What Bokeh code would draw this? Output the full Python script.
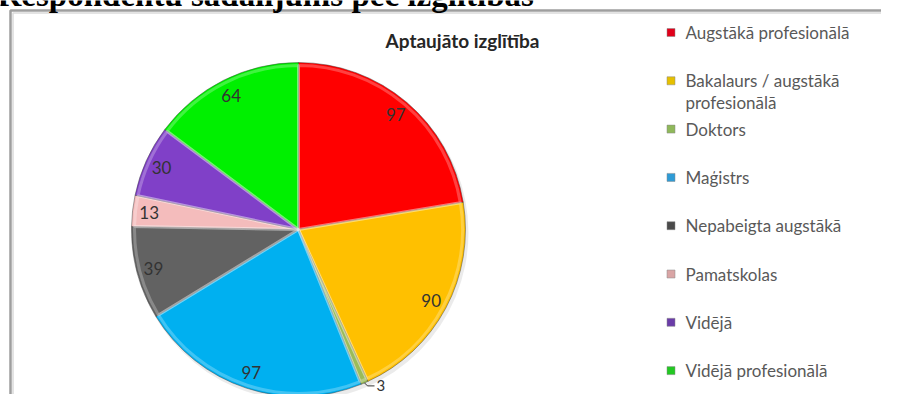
import numpy as np
from bokeh.plotting import figure
from bokeh.models import ColumnDataSource, Range1d
from bokeh.core.properties import value
from bokeh.embed import file_html
from bokeh.resources import INLINE

# ---- data ----
heading = "Respondentu sadalījums pēc izglītības"
chart_title = "Aptaujāto izglītība"
categories = ["Augstākā profesionālā", "Bakalaurs / augstākā\nprofesionālā", "Doktors",
              "Maģistrs", "Nepabeigta augstākā", "Pamatskolas", "Vidējā", "Vidējā profesionālā"]
counts = [97, 90, 3, 97, 39, 13, 30, 64]
colors = ["#FF0000", "#FFC000", "#9BBB59", "#00B0F0", "#626262", "#F4BCBC", "#8040C8", "#00F000"]
legend_colors = ["#E0001A", "#E6C000", "#8FB85A", "#2E9BD6", "#4A4A4A", "#D9A5A5", "#6A3CA8", "#22C822"]

# ---- layout (pixels, image coordinates) ----
W, H = 881, 394
def fx(px):
    return px
def fy(py):
    return H - py

cx, cy, r = fx(298), fy(229), 167

p = figure(width=W, height=H, output_backend="svg", toolbar_location=None,
           x_range=Range1d(0, W), y_range=Range1d(0, H),
           x_axis_location=None, y_axis_location=None, min_border=0)
p.grid.visible = False
p.outline_line_color = None
p.background_fill_color = "white"

# chart frame
p.line([fx(10), fx(10), W + 20], [-20, fy(10), fy(10)], line_color="#9E9E9E", line_width=2.5)
p.line([fx(12.5), fx(12.5), W + 20], [-20, fy(12.5), fy(12.5)], line_color="#DADADA", line_width=1.5)

# heading (cut off at the top, as in the reference)
p.text(x=[fx(-3)], y=[fy(-6)], text=[heading], text_font=value("Liberation Serif"),
       text_font_style="bold", text_font_size="33px", text_color="black",
       text_baseline="alphabetic", text_align="left")

# title
p.text(x=[fx(462)], y=[fy(40)], text=[chart_title], text_font=value("Lato"),
       text_font_style="bold", text_font_size="19px", text_color="#262626",
       text_baseline="middle", text_align="center")

# pie
vals = np.array(counts, dtype=float)
frac = vals / vals.sum()
cum_end = np.cumsum(frac)
cum_start = cum_end - frac
start_ang = np.pi / 2 - cum_end * 2 * np.pi
end_ang = np.pi / 2 - cum_start * 2 * np.pi
src = ColumnDataSource(dict(start=start_ang, end=end_ang, color=colors))
# soft shadow
p.wedge(x=cx + 2, y=cy - 3, radius=r + 1, start_angle=0, end_angle=2 * np.pi,
        fill_color="#000000", fill_alpha=0.08, line_color=None)
p.wedge(x=cx, y=cy, radius=r, start_angle="start", end_angle="end", direction="anticlock",
        fill_color="color", line_color="#3A3A3A", line_alpha=0.45, line_width=1, source=src)
# light bevel rim
p.wedge(x=cx, y=cy, radius=r - 3, start_angle="start", end_angle="end", direction="anticlock",
        fill_color=None, line_color="white", line_alpha=0.25, line_width=3, source=src)

# data labels
mid = (cum_start + cum_end) / 2 * 2 * np.pi  # clockwise from top
inside = frac >= 0.02
lab_r = 0.9 * r
lx = cx + lab_r * np.sin(mid)
ly = cy + lab_r * np.cos(mid)
p.text(x=lx[inside], y=ly[inside], text=[str(c) for c, k in zip(counts, inside) if k],
       text_font=value("Lato"), text_font_size="17px", text_color="#333333",
       text_align="center", text_baseline="middle")
# small slice: leader line + outside label
for i in np.where(~inside)[0]:
    ex = cx + r * np.sin(mid[i])
    ey = cy + r * np.cos(mid[i])
    p.line([ex, ex + 3, ex + 10], [ey, ey - 3, ey - 3], line_color="#333333", line_width=1)
    p.text(x=[ex + 12], y=[ey - 3], text=[str(counts[i])], text_font=value("Lato"),
           text_font_size="15px", text_color="#333333", text_align="left", text_baseline="middle")

# legend
row0, step = fy(32), 48.3
sq_x, tx = fx(670.5), fx(685)
rows = [row0 - i * step for i in range(len(categories))]
p.rect(x=[sq_x] * len(categories), y=rows, width=8, height=8, fill_color=legend_colors,
       line_color="#888888", line_width=0.5)
lt_x, lt_y, lt_t = [], [], []
for yrow, name in zip(rows, categories):
    for j, line in enumerate(name.split("\n")):
        lt_x.append(tx)
        lt_y.append(yrow - j * 22)
        lt_t.append(line)
p.text(x=lt_x, y=lt_y, text=lt_t, text_font=value("Lato"), text_font_size="17px",
       text_color="#595959", text_align="left", text_baseline="middle")

open("out.html", "w").write(file_html(p, INLINE))
